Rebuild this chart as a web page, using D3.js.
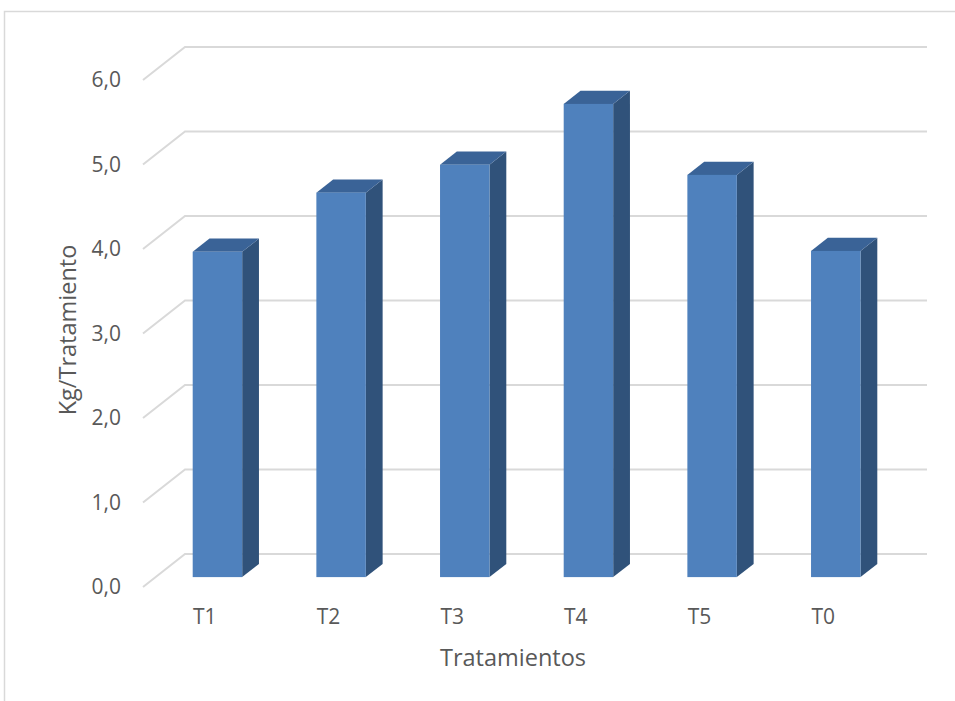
<!DOCTYPE html>
<html lang="es">
<head>
<meta charset="utf-8">
<title>Kg/Tratamiento</title>
<script src="https://cdn.jsdelivr.net/npm/d3@7/dist/d3.min.js"></script>
<style>
  body { margin: 0; background: #fff; }
  text { font-family: "Open Sans", "Noto Sans", sans-serif; fill: #595959; }
</style>
</head>
<body>
<script>
// data
var categories = ["T1", "T2", "T3", "T4", "T5", "T0"];
var values = [3.85, 4.55, 4.88, 5.60, 4.76, 3.86];
var yTicks = [0, 1, 2, 3, 4, 5, 6];

var W = 955, H = 701;
var depthX = 42, depthY = -33;        // oblique offset of the back wall
var barZ0 = 0.3, barZ1 = 0.7;         // depth slot the bars sit in

var svg = d3.select("body").append("svg")
  .attr("width", W).attr("height", H);

// chart area frame
svg.append("rect")
  .attr("x", 4.5).attr("y", 11.5)
  .attr("width", W + 20).attr("height", H + 20)
  .attr("fill", "none").attr("stroke", "#d9d9d9").attr("stroke-width", 1.5);

var x = d3.scaleBand().domain(categories).range([143, 885])
  .paddingInner(0.6).paddingOuter(0.3);
var y = d3.scaleLinear().domain([0, 6]).range([587, 80]);

// gridlines: diagonal on the side wall then across the back wall
var grid = svg.append("g");
yTicks.forEach(function(t) {
  var yy = y(t);
  grid.append("polyline")
    .attr("points", [[143, yy], [143 + depthX, yy + depthY], [885 + depthX, yy + depthY]].join(" "))
    .attr("fill", "none").attr("stroke", "#d9d9d9").attr("stroke-width", 2);
});

// y tick labels
svg.append("g").selectAll("text").data(yTicks).enter().append("text")
  .attr("x", 121).attr("y", function(d) { return y(d); })
  .attr("dy", "0.35em").attr("text-anchor", "end")
  .style("font-size", "21px")
  .text(function(d) { return d3.format(".1f")(d).replace(".", ","); });

// bars
var ox0 = depthX * barZ0, oy0 = depthY * barZ0;
var ddx = depthX * (barZ1 - barZ0), ddy = depthY * (barZ1 - barZ0);
var bw = x.bandwidth();
var bars = svg.append("g").selectAll("g").data(categories).enter().append("g");

bars.each(function(c, i) {
  var g = d3.select(this);
  var x0 = x(c) + ox0, x1 = x0 + bw;
  var top = y(values[i]) + oy0, bot = y(0) + oy0;
  g.append("polygon")
    .attr("points", [[x1, top], [x1 + ddx, top + ddy], [x1 + ddx, bot + ddy], [x1, bot]].join(" "))
    .attr("fill", "#30527a");
  g.append("polygon")
    .attr("points", [[x0, top], [x0 + ddx, top + ddy], [x1 + ddx, top + ddy], [x1, top]].join(" "))
    .attr("fill", "#3a6397");
  g.append("rect")
    .attr("x", x0).attr("y", top).attr("width", bw).attr("height", bot - top)
    .attr("fill", "#4f81bd");
});

// category labels
svg.append("g").selectAll("text").data(categories).enter().append("text")
  .attr("x", function(d) { return x(d) + bw / 2; })
  .attr("y", 617).attr("dy", "0.35em").attr("text-anchor", "middle")
  .style("font-size", "21px")
  .text(function(d) { return d; });

// axis titles
svg.append("text")
  .attr("x", 513).attr("y", 658).attr("dy", "0.35em").attr("text-anchor", "middle")
  .style("font-size", "23.5px")
  .text("Tratamientos");

svg.append("text")
  .attr("transform", "translate(68,330) rotate(-90)")
  .attr("dy", "0.35em").attr("text-anchor", "middle")
  .style("font-size", "23.5px")
  .text("Kg/Tratamiento");
</script>
</body>
</html>
